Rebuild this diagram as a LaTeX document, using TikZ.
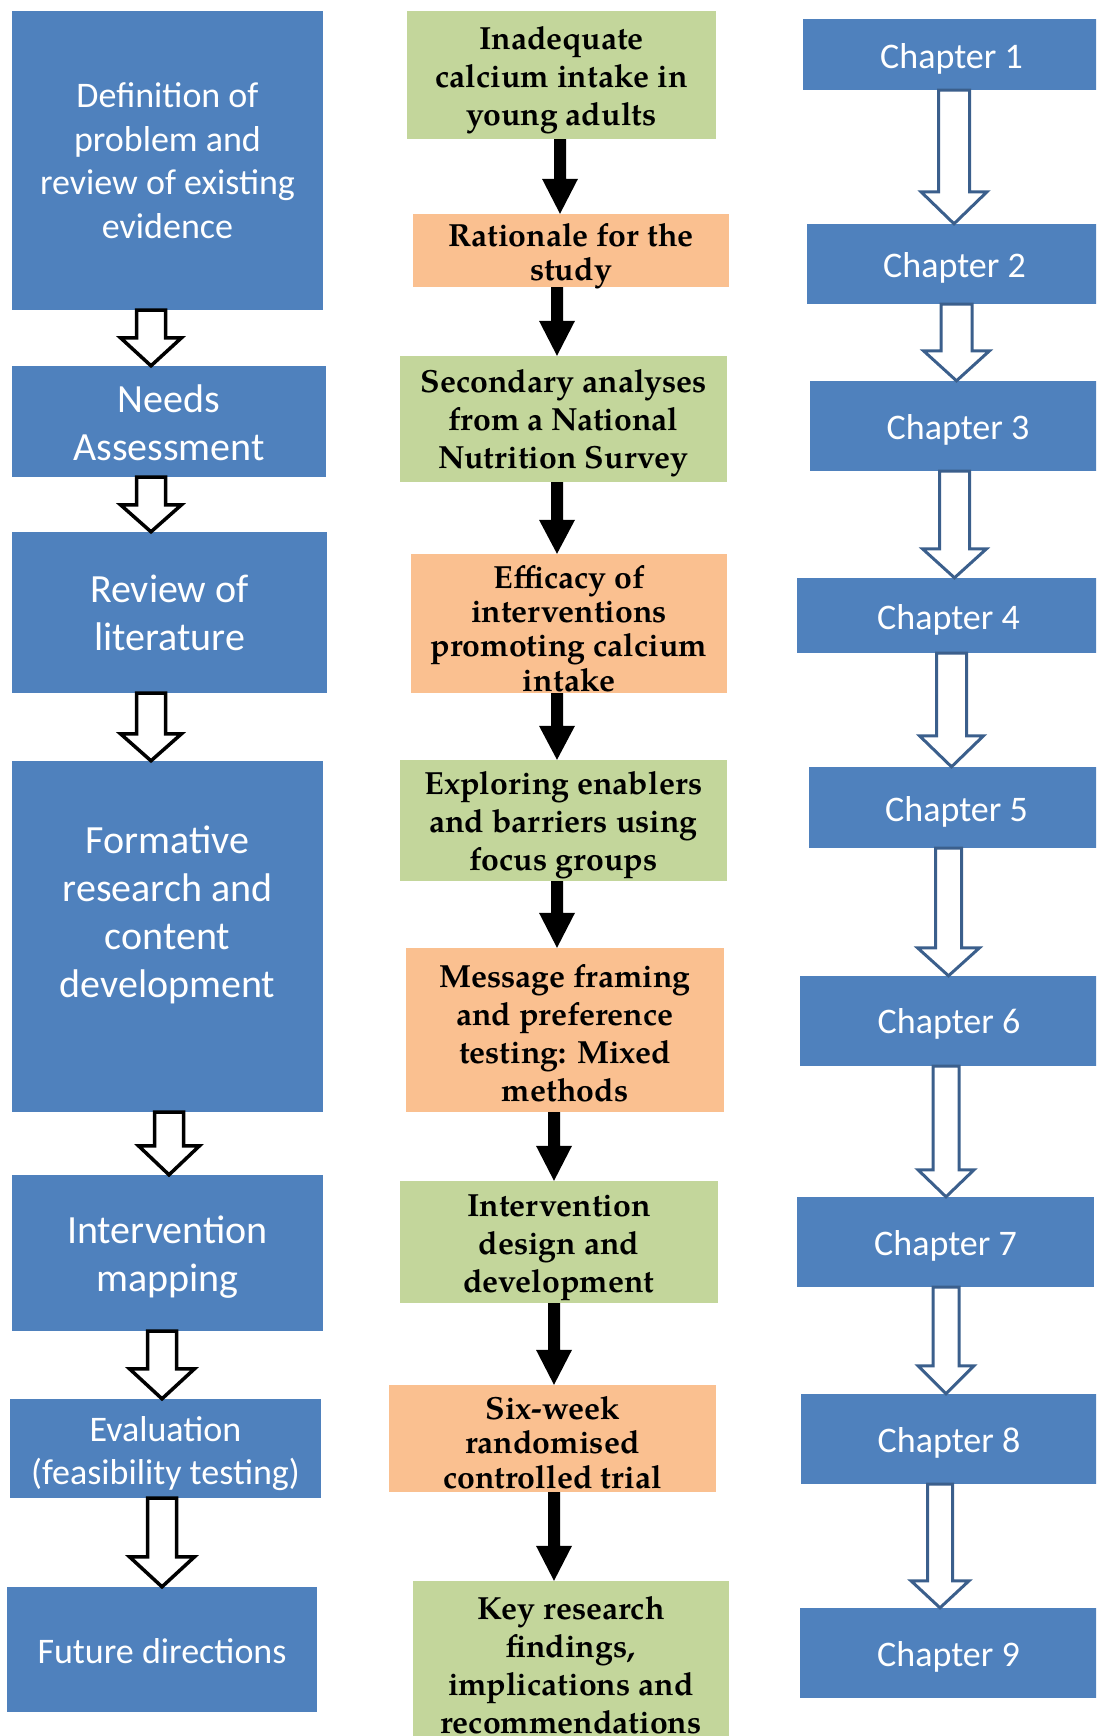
\documentclass[tikz,border=0pt]{standalone}
\usepackage{fontspec}
\setmainfont{Carlito}
\newfontfamily\pal[Extension=.otf,UprightFont=*-regular,BoldFont=*-bold]{texgyrepagella}
\usetikzlibrary{calc}
\definecolor{bluebox}{HTML}{4F81BD}
\definecolor{greenbox}{HTML}{C3D69B}
\definecolor{orangebox}{HTML}{FAC090}
\definecolor{arrowblue}{HTML}{3B5F8C}
\tikzset{
  cellbase/.style={rectangle, inner sep=0pt},
  bluecell/.style={cellbase, fill=bluebox},
  greencell/.style={cellbase, fill=greenbox},
  orangecell/.style={cellbase, fill=orangebox},
  wtext/.style={inner sep=0pt, align=center, text=white},
  lbig/.style={wtext, font=\fontsize{40}{48}\selectfont},
  lsmall/.style={wtext, font=\fontsize{36}{43.5}\selectfont},
  chap/.style={wtext, font=\fontsize{36}{43}\selectfont},
  midtext/.style={inner sep=0pt, align=center, text=black, font=\pal\bfseries\fontsize{32}{38}\selectfont},
  midtight/.style={midtext, font=\pal\bfseries\fontsize{32}{34.3}\selectfont},
  leftarrow/.style={draw=black, line width=3.5pt, fill=white, line join=miter},
  rightarrow/.style={draw=arrowblue, line width=3pt, fill=white, line join=miter},
  midarrow/.style={fill=black, draw=none},
}
% name, x1, y1, x2, y2, box style, text style, text shift down, text
\newcommand\cellbox[9]{%
  \node[#6, minimum width={(#4-#2)*1pt}, minimum height={(#5-#3)*1pt}] (#1) at ({(#2+#4)/2},{(#3+#5)/2}) {};
  \node[#7] (#1-t) at ([yshift={-(#8)*1pt}]#1.center) {#9};}
% style, from, to, cx, shaft half, head half, head length
\newcommand\blockarrow[7]{\draw[#1] let \p1=(#2.south), \p2=(#3.north) in
  ({#4pt-#5pt},\y1) -- ({#4pt+#5pt},\y1) -- ({#4pt+#5pt},{\y2+#7pt}) -- ({#4pt+#6pt},{\y2+#7pt}) -- (#4pt,\y2) -- ({#4pt-#6pt},{\y2+#7pt}) -- ({#4pt-#5pt},{\y2+#7pt}) -- cycle;}
\begin{document}
\begin{tikzpicture}[x=1pt,y=-1pt]
\useasboundingbox (0,0) rectangle (1096,1736);
\clip (0,0) rectangle (1096,1736);
% left column
\cellbox{l1}{12}{11}{323}{310}{bluecell}{lsmall}{0}{Definition of\\problem and\\review of existing\\evidence}
\cellbox{l2}{12}{366}{326}{477}{bluecell}{lbig}{1}{Needs\\Assessment}
\cellbox{l3}{12}{532}{327}{693}{bluecell}{lbig}{0}{Review of\\literature}
\cellbox{l4}{12}{761}{323}{1112}{bluecell}{lbig}{-22}{Formative\\research and\\content\\development}
\cellbox{l5}{12}{1175}{323}{1331}{bluecell}{lbig}{4}{Intervention\\mapping}
\cellbox{l6}{10}{1399}{321}{1498}{bluecell}{lsmall}{5}{Evaluation\\(feasibility testing)}
\cellbox{l7}{7}{1587}{317}{1712}{bluecell}{lsmall}{2}{Future directions}
% middle column
\cellbox{m1}{407}{11}{716}{139}{greencell}{midtext}{5}{Inadequate\\calcium intake in\\young adults}
\cellbox{m2}{413}{214}{729}{287}{orangecell}{midtight}{6}{Rationale for the\\study}
\cellbox{m3}{400}{356}{727}{482}{greencell}{midtext}{4}{Secondary analyses\\from a National\\Nutrition Survey}
\cellbox{m4}{411}{554}{727}{693}{orangecell}{midtight}{5}{Efficacy of\\interventions\\promoting calcium\\intake}
\cellbox{m5}{400}{760}{727}{881}{greencell}{midtext}{5}{Exploring enablers\\and barriers using\\focus groups}
\cellbox{m6}{406}{948}{724}{1112}{orangecell}{midtext}{3}{Message framing\\and preference\\testing: Mixed\\methods}
\cellbox{m7}{400}{1181}{718}{1303}{greencell}{midtext}{6}{Intervention\\design and\\development}
\cellbox{m8}{389}{1385}{716}{1492}{orangecell}{midtight}{4}{Six-week\\randomised\\controlled trial}
\cellbox{m9}{413}{1581}{729}{1749}{greencell}{midtext}{0}{Key research\\findings,\\implications and\\recommendations}
% right column
\cellbox{c1}{803}{19}{1100}{90}{bluecell}{chap}{4}{Chapter 1}
\cellbox{c2}{807}{224}{1102}{304}{bluecell}{chap}{4}{Chapter 2}
\cellbox{c3}{810}{381}{1106}{471}{bluecell}{chap}{4}{Chapter 3}
\cellbox{c4}{797}{578}{1100}{653}{bluecell}{chap}{4}{Chapter 4}
\cellbox{c5}{809}{767}{1104}{848}{bluecell}{chap}{4}{Chapter 5}
\cellbox{c6}{800}{976}{1098}{1066}{bluecell}{chap}{3}{Chapter 6}
\cellbox{c7}{797}{1197}{1094}{1287}{bluecell}{chap}{4}{Chapter 7}
\cellbox{c8}{801}{1394}{1097}{1484}{bluecell}{chap}{4}{Chapter 8}
\cellbox{c9}{800}{1608}{1097}{1698}{bluecell}{chap}{4}{Chapter 9}
% left arrows
\blockarrow{leftarrow}{l1}{l2}{151}{14.5}{30.5}{28}
\blockarrow{leftarrow}{l2}{l3}{151}{14.5}{30.5}{27}
\blockarrow{leftarrow}{l3}{l4}{151}{14.5}{30.5}{27}
\blockarrow{leftarrow}{l4}{l5}{169}{14.5}{30.5}{29}
\blockarrow{leftarrow}{l5}{l6}{162}{14.5}{32.5}{30}
\blockarrow{leftarrow}{l6}{l7}{162}{14.5}{32.5}{30}
% middle arrows
\blockarrow{midarrow}{m1}{m2}{560}{6}{18}{35}
\blockarrow{midarrow}{m2}{m3}{557}{6}{18}{35}
\blockarrow{midarrow}{m3}{m4}{557}{6}{18}{34}
\blockarrow{midarrow}{m4}{m5}{557}{6}{18}{34}
\blockarrow{midarrow}{m5}{m6}{557}{6}{18}{35}
\blockarrow{midarrow}{m6}{m7}{554}{6}{18}{35}
\blockarrow{midarrow}{m7}{m8}{554}{6}{18}{35}
\blockarrow{midarrow}{m8}{m9}{554}{6}{18}{35}
% right arrows
\blockarrow{rightarrow}{c1}{c2}{954}{15.5}{33}{32}
\blockarrow{rightarrow}{c2}{c3}{956.5}{15.5}{33}{30}
\blockarrow{rightarrow}{c3}{c4}{954.5}{15}{32}{29}
\blockarrow{rightarrow}{c4}{c5}{951.5}{15}{32}{31}
\blockarrow{rightarrow}{c5}{c6}{948.5}{13}{31}{28}
\blockarrow{rightarrow}{c6}{c7}{946}{13}{28}{27}
\blockarrow{rightarrow}{c7}{c8}{946}{13}{28}{28}
\blockarrow{rightarrow}{c8}{c9}{940}{12.5}{29}{27}
\end{tikzpicture}
\end{document}
